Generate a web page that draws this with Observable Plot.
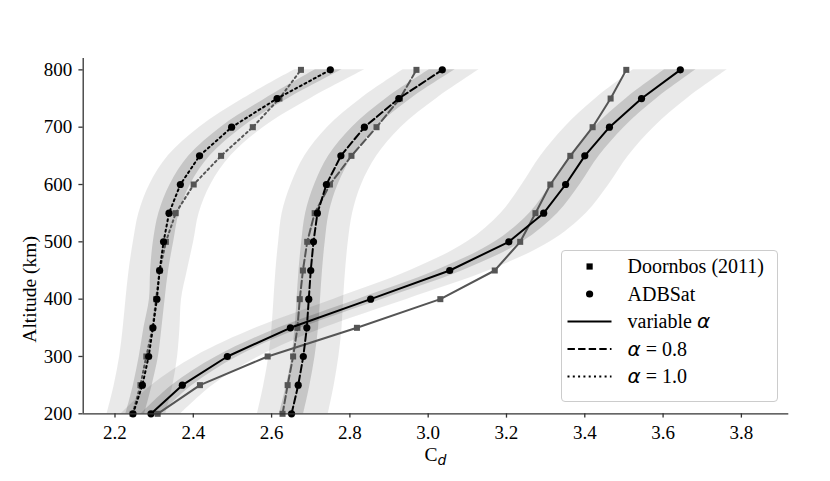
<!DOCTYPE html>
<html>
<head>
<meta charset="utf-8">
<script src="https://cdn.jsdelivr.net/npm/d3@7"></script>
<script src="https://cdn.jsdelivr.net/npm/@observablehq/plot@0.6"></script>
<style>
  html, body { margin: 0; padding: 0; background: #fff; }
  #wrap { position: relative; width: 830px; height: 481px; font-family: "Liberation Serif"; color: #000; }
  .gr { font-family: "DejaVu Sans"; font-style: italic; }
  #legend { position: absolute; left: 560.5px; top: 249.5px; width: 215px; height: 150px;
            border: 1.2px solid #cccccc; border-radius: 4px; background: rgba(255,255,255,0.8); }
  #legend .row { position: absolute; left: 66px; font-size: 20px; line-height: 20px; white-space: nowrap; }
  #legend svg { position: absolute; left: 0; top: 0; }
  #xlab { position: absolute; left: 435.5px; top: 445.5px; transform: translateX(-50%);
          font-size: 19.5px; line-height: 0.9; white-space: nowrap; }
  #xlab .sub { font-size: 14px; position: relative; top: 4px; }
  #ylab { position: absolute; left: 30px; top: 235.6px; font-size: 19.5px; line-height: 20px; white-space: nowrap;
          transform: translate(-100%, -50%) rotate(-90deg); transform-origin: 100% 50%; }
</style>
</head>
<body>
<div id="wrap"></div>
<script>
// ---- data ----
const altitude = [200, 250, 300, 350, 400, 450, 500, 550, 600, 650, 700, 750, 800];
const xTicks = [2.2, 2.4, 2.6, 2.8, 3.0, 3.2, 3.4, 3.6, 3.8];
const yTicks = [200, 300, 400, 500, 600, 700, 800];

// ADBSat
const adbVariable = [2.292, 2.372, 2.487, 2.648, 2.853, 3.055, 3.206, 3.295, 3.351, 3.400, 3.463, 3.545, 3.644];
const adbAlpha08  = [2.651, 2.668, 2.681, 2.690, 2.695, 2.700, 2.707, 2.717, 2.740, 2.777, 2.837, 2.925, 3.036];
const adbAlpha10  = [2.246, 2.270, 2.286, 2.297, 2.307, 2.314, 2.324, 2.338, 2.367, 2.416, 2.498, 2.614, 2.750];

// Doornbos (2011)
const dorVariable = [2.309, 2.417, 2.590, 2.818, 3.031, 3.170, 3.235, 3.274, 3.312, 3.363, 3.420, 3.466, 3.506];
const dorAlpha08  = [2.628, 2.641, 2.655, 2.666, 2.672, 2.680, 2.691, 2.710, 2.749, 2.804, 2.868, 2.928, 2.970];
const dorAlpha10  = [2.245, 2.265, 2.280, 2.296, 2.305, 2.314, 2.330, 2.355, 2.401, 2.471, 2.552, 2.620, 2.675];

// uncertainty bands around ADBSat (outer = light, inner = dark)
const varOuterLo = [2.216, 2.294, 2.405, 2.561, 2.759, 2.954, 3.100, 3.186, 3.240, 3.288, 3.349, 3.428, 3.524];
const varOuterHi = [2.368, 2.450, 2.569, 2.735, 2.947, 3.156, 3.312, 3.404, 3.462, 3.512, 3.577, 3.662, 3.764];
const varInnerLo = [2.267, 2.346, 2.460, 2.619, 2.822, 3.021, 3.171, 3.259, 3.314, 3.363, 3.425, 3.506, 3.604];
const varInnerHi = [2.317, 2.398, 2.514, 2.677, 2.884, 3.089, 3.241, 3.331, 3.388, 3.437, 3.501, 3.584, 3.684];

const a08OuterLo = [2.564, 2.580, 2.593, 2.601, 2.606, 2.611, 2.618, 2.627, 2.650, 2.685, 2.743, 2.829, 2.936];
const a08OuterHi = [2.745, 2.760, 2.772, 2.780, 2.784, 2.789, 2.796, 2.807, 2.830, 2.869, 2.931, 3.022, 3.130];
const a08InnerLo = [2.620, 2.638, 2.652, 2.660, 2.665, 2.670, 2.677, 2.687, 2.710, 2.746, 2.806, 2.893, 3.003];
const a08InnerHi = [2.682, 2.698, 2.711, 2.720, 2.725, 2.730, 2.737, 2.747, 2.770, 2.808, 2.868, 2.957, 3.069];

const a10OuterLo = [2.180, 2.198, 2.212, 2.221, 2.228, 2.236, 2.247, 2.261, 2.289, 2.336, 2.416, 2.528, 2.659];
const a10OuterHi = [2.330, 2.348, 2.360, 2.366, 2.370, 2.385, 2.401, 2.415, 2.445, 2.496, 2.580, 2.700, 2.838];
const a10InnerLo = [2.228, 2.247, 2.262, 2.274, 2.288, 2.291, 2.298, 2.312, 2.341, 2.389, 2.471, 2.585, 2.712];
const a10InnerHi = [2.276, 2.295, 2.311, 2.320, 2.328, 2.337, 2.350, 2.364, 2.393, 2.443, 2.526, 2.643, 2.780];

// ---- tables for the library ----
const series = (vals) => altitude.map((a, i) => ({alt: a, cd: vals[i]}));
const band = (lo, hi) => altitude.map((a, i) => ({alt: a, lo: lo[i], hi: hi[i]}));

const xDomain = [2.1188, 3.9211];
const yDomain = [200, 820];
const grey = "#555555";
const dash = "7.4,3.2";
const dot = "2,3.3";

const bandMarks = [];
for (const [lo, hi] of [[a10OuterLo, a10OuterHi], [a08OuterLo, a08OuterHi], [varOuterLo, varOuterHi]]) {
  bandMarks.push(Plot.areaX(band(lo, hi), {y: "alt", x1: "lo", x2: "hi", fill: "black", fillOpacity: 0.085, curve: "catmull-rom"}));
}
for (const [lo, hi] of [[a10InnerLo, a10InnerHi], [a08InnerLo, a08InnerHi], [varInnerLo, varInnerHi]]) {
  bandMarks.push(Plot.areaX(band(lo, hi), {y: "alt", x1: "lo", x2: "hi", fill: "black", fillOpacity: 0.15, curve: "catmull-rom"}));
}

const groups = [
  {dor: dorVariable, adb: adbVariable, dashArr: null},
  {dor: dorAlpha08, adb: adbAlpha08, dashArr: dash},
  {dor: dorAlpha10, adb: adbAlpha10, dashArr: dot}
];
const lineMarks = [];
for (const g of groups) {
  const extra = g.dashArr ? {strokeDasharray: g.dashArr} : {};
  lineMarks.push(Plot.line(series(g.dor), {x: "cd", y: "alt", stroke: grey, strokeWidth: 2, ...extra}));
  lineMarks.push(Plot.dot(series(g.dor), {x: "cd", y: "alt", symbol: "square", r: 3.4, fill: grey, stroke: null}));
}
for (const g of groups) {
  const extra = g.dashArr ? {strokeDasharray: g.dashArr} : {};
  lineMarks.push(Plot.line(series(g.adb), {x: "cd", y: "alt", stroke: "black", strokeWidth: 2, ...extra}));
  lineMarks.push(Plot.dot(series(g.adb), {x: "cd", y: "alt", symbol: "circle", r: 3.6, fill: "black", stroke: null}));
}

const svg = Plot.plot({
  width: 830,
  height: 481,
  marginLeft: 82.7,
  marginRight: 41.7,
  marginTop: 57.9,
  marginBottom: 67.7,
  style: {fontFamily: "Liberation Serif", fontSize: "19px", color: "black", background: "white"},
  x: {domain: xDomain},
  y: {domain: yDomain},
  marks: [
    ...bandMarks,
    ...lineMarks,
    Plot.ruleX([xDomain[0]], {stroke: "#333", strokeWidth: 1.3}),
    Plot.ruleY([yDomain[0]], {stroke: "#333", strokeWidth: 1.3}),
    Plot.axisX({ticks: xTicks, tickFormat: d3.format(".1f"), tickSize: 4.3, tickPadding: 7.5, stroke: "#333", strokeWidth: 1.3, fontSize: 19, fontFamily: "Liberation Serif", label: null}),
    Plot.axisY({ticks: yTicks, tickFormat: d3.format("d"), tickSize: 4.3, tickPadding: 6.7, stroke: "#333", strokeWidth: 1.3, fontSize: 19, fontFamily: "Liberation Serif", label: null})
  ]
});
svg.setAttribute("font-family", "Liberation Serif");

const wrap = document.getElementById("wrap");
wrap.appendChild(svg);

// axis titles
const xlab = document.createElement("div");
xlab.id = "xlab";
xlab.innerHTML = 'C<span class="gr sub">d</span>';
wrap.appendChild(xlab);
const ylab = document.createElement("div");
ylab.id = "ylab";
ylab.textContent = "Altitude (km)";
wrap.appendChild(ylab);

// legend (HTML box, small SVG for the symbols)
const legendItems = [
  {html: "Doornbos (2011)", kind: "square"},
  {html: "ADBSat", kind: "circle"},
  {html: 'variable <span class="gr">α</span>', kind: "line", dashArr: null},
  {html: '<span class="gr">α</span> = 0.8', kind: "line", dashArr: dash},
  {html: '<span class="gr">α</span> = 1.0', kind: "line", dashArr: dot}
];
const legend = document.createElement("div");
legend.id = "legend";
wrap.appendChild(legend);
const lg = d3.select(legend).append("svg").attr("width", 215).attr("height", 150);
legendItems.forEach((it, i) => {
  const cy = 15.5 + i * 27.5;
  if (it.kind === "square") {
    lg.append("rect").attr("x", 27.6 - 3.1).attr("y", cy - 3.1).attr("width", 6.2).attr("height", 6.2).attr("fill", "black");
  } else if (it.kind === "circle") {
    lg.append("circle").attr("cx", 27.6).attr("cy", cy).attr("r", 3.6).attr("fill", "black");
  } else {
    const l = lg.append("line").attr("x1", 5.5).attr("x2", 49.5).attr("y1", cy).attr("y2", cy)
      .attr("stroke", "black").attr("stroke-width", 2);
    if (it.dashArr) l.attr("stroke-dasharray", it.dashArr);
  }
  const row = document.createElement("div");
  row.className = "row";
  row.style.top = (cy - 10) + "px";
  row.innerHTML = it.html;
  legend.appendChild(row);
});
</script>
</body>
</html>
